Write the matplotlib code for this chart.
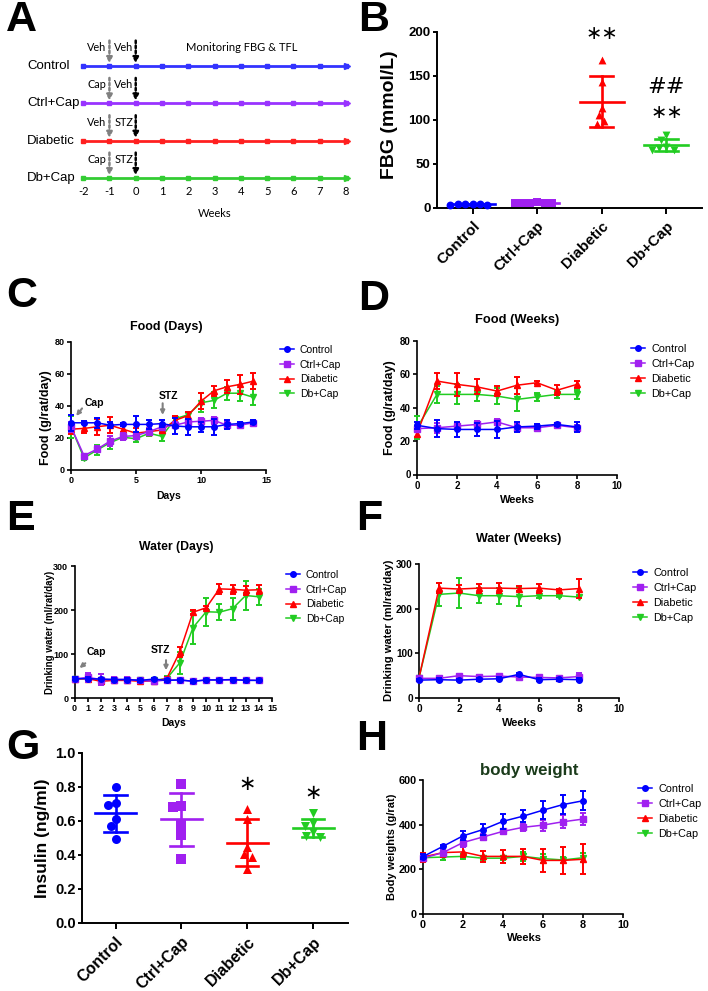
import numpy as np
import matplotlib
matplotlib.use("Agg")
import matplotlib.pyplot as plt
from matplotlib.lines import Line2D
import matplotlib.transforms as mtransforms

plt.rcParams['font.family'] = ['Liberation Sans', 'DejaVu Sans']
plt.rcParams['font.weight'] = 'bold'
plt.rcParams['axes.linewidth'] = 1.2

# ---------------- data ----------------
groups = ['Control', 'Ctrl+Cap', 'Diabetic', 'Db+Cap']

timeline_weeks = [-2, -1, 0, 1, 2, 3, 4, 5, 6, 7, 8]
timeline_pre = ['Veh', 'Cap', 'Veh', 'Cap']
timeline_induce = ['Veh', 'Veh', 'STZ', 'STZ']
timeline_note = 'Monitoring FBG & TFL'

fbg_control = [4.2, 3.8, 4.5, 4.0, 4.3, 3.9]
fbg_ctrlcap = [5.5, 6.2, 5.8, 6.5, 5.9, 6.1]
fbg_diabetic = [168, 143, 114, 106, 99, 95]
fbg_dbcap = [77, 83, 69, 68, 66, 66]

days = list(range(15))
food_d_control = [29.5, 29.5, 29.5, 28, 28.5, 28.5, 28.5, 29, 27.5, 27, 27, 27, 28.5, 29, 30]
food_d_control_sd = [5, 1, 3, 2, 1, 5, 3, 2, 5, 5, 3, 5, 3, 1, 1]
food_d_ctrlcap = [27, 9, 13, 18, 21, 21.5, 24, 27, 28, 30, 30.5, 31, 28, 28, 29.5]
food_d_ctrlcap_sd = [3, 1, 2, 3, 2, 2, 2, 2, 2, 2, 2, 2, 2, 1, 1]
food_d_diabetic = [25.5, 26, 27, 28, 25.5, 23, 24, 25, 31, 34, 43, 49.5, 52, 53.5, 55.5]
food_d_diabetic_sd = [3, 3, 5, 5, 2, 3, 2, 2, 3, 2, 5, 3, 4, 6, 5]
food_d_dbcap = [27, 7.5, 12.5, 17, 20.5, 19.5, 23, 21, 32, 34.5, 42, 43.5, 48, 48, 45.5]
food_d_dbcap_sd = [7, 1, 3, 4, 2, 2, 2, 3, 2, 2, 6, 5, 4, 5, 5]

weeks = list(range(9))
food_w_control = [29.5, 27.5, 27, 27, 27, 28.5, 29, 30, 28.5]
food_w_control_sd = [2, 5, 4.5, 4, 5, 3, 1.5, 1, 3]
food_w_ctrlcap = [27.5, 28, 29, 30, 31.5, 28, 28, 29.5, 28]
food_w_ctrlcap_sd = [1, 3, 2, 2, 2, 2, 1, 1, 1.5]
food_w_diabetic = [24.5, 56, 54, 52.5, 50, 53.5, 55, 50.5, 54]
food_w_diabetic_sd = [2, 5, 7, 4.5, 3, 5, 1, 3, 2]
food_w_dbcap = [28, 48, 48, 48, 47, 45, 46.5, 48, 48]
food_w_dbcap_sd = [7, 5, 6, 4, 5, 7, 2.5, 2, 2.5]

water_d_control = [44, 44, 43, 42, 42, 40, 43, 40, 41, 38, 41, 41, 42, 40, 40]
water_d_control_sd = [3, 3, 3, 3, 3, 3, 3, 3, 3, 3, 3, 3, 3, 3, 3]
water_d_ctrlcap = [43, 47, 42, 42, 42, 40, 38, 41, 41, 38, 41, 41, 41, 41, 40]
water_d_ctrlcap_sd = [3, 10, 12, 5, 5, 4, 4, 4, 4, 4, 4, 4, 4, 4, 4]
water_d_diabetic = [43, 44, 38, 40, 40, 38, 39, 44, 105, 195, 205, 248, 247, 245, 246]
water_d_diabetic_sd = [3, 3, 3, 3, 3, 3, 3, 3, 12, 5, 3, 12, 10, 10, 10]
water_d_dbcap = [43, 44, 42, 41, 41, 40, 40, 44, 80, 160, 196, 195, 203, 233, 230]
water_d_dbcap_sd = [3, 8, 12, 5, 5, 5, 5, 5, 25, 37, 32, 18, 25, 32, 18]

water_w_control = [40, 41, 40, 42, 43, 53, 41, 42, 41]
water_w_control_sd = [3, 3, 3, 3, 3, 3, 3, 3, 3]
water_w_ctrlcap = [44, 44, 50, 48, 49, 47, 46, 45, 48]
water_w_ctrlcap_sd = [3, 3, 4, 3, 3, 4, 3, 3, 8]
water_w_diabetic = [45, 246, 244, 246, 246, 245, 246, 242, 245]
water_w_diabetic_sd = [3, 12, 8, 10, 12, 5, 10, 3, 22]
water_w_dbcap = [45, 232, 235, 229, 229, 227, 229, 229, 226]
water_w_dbcap_sd = [3, 25, 33, 17, 18, 22, 5, 3, 3]

insulin_control = [0.80, 0.707, 0.693, 0.611, 0.572, 0.492]
insulin_ctrlcap = [0.82, 0.69, 0.68, 0.574, 0.516, 0.375]
insulin_diabetic = [0.668, 0.611, 0.449, 0.406, 0.387, 0.316]
insulin_dbcap = [0.648, 0.59, 0.57, 0.537, 0.508, 0.514]

bw_control = [257, 303, 350, 378, 415, 438, 465, 490, 507]
bw_control_sd = [10, 8, 20, 25, 35, 28, 40, 42, 42]
bw_ctrlcap = [250, 275, 320, 345, 370, 388, 398, 413, 425]
bw_ctrlcap_sd = [10, 15, 20, 15, 10, 15, 25, 30, 28]
bw_diabetic = [255, 275, 278, 258, 258, 258, 240, 240, 245]
bw_diabetic_sd = [20, 20, 25, 25, 30, 35, 50, 60, 68]
bw_dbcap = [252, 255, 258, 250, 250, 258, 248, 242, 252]
bw_dbcap_sd = [10, 15, 10, 10, 10, 20, 20, 15, 20]

# ---------------- style ----------------
colors = ['#0000ff', '#a020f0', '#ff0000', '#22cc22']
tl_colors = ['#3333ff', '#9933ff', '#ff2020', '#33cc33']
markers = ['o', 's', '^', 'v']

W, H = 708, 991
fig = plt.figure(figsize=(W / 100, H / 100), dpi=100)


def px_ax(l, t, r, b):
    return fig.add_axes([l / W, 1 - b / H, (r - l) / W, (b - t) / H])


def ftext(x, y, s, **kw):
    return fig.text(x / W, 1 - y / H, s, **kw)


def style(ax, fs, lw=1.2):
    for s in ['top', 'right']:
        ax.spines[s].set_visible(False)
    for s in ['left', 'bottom']:
        ax.spines[s].set_linewidth(lw)
    ax.tick_params(direction='out', length=3, width=lw, labelsize=fs, pad=1.5)


def panel_letter(x, y, s):
    ftext(x, y, s, fontsize=31, fontweight='bold', ha='left', va='top')


# ---------------- Panel A ----------------
axA = px_ax(70, 30, 356, 181)
axA.set_xlim(-2.5, 8.38)
axA.set_ylim(3.08, -0.964)
axA.axis('off')
blend = mtransforms.blended_transform_factory(fig.transFigure, axA.transData)
for i, g in enumerate(groups):
    axA.plot(timeline_weeks, [i] * len(timeline_weeks), color=tl_colors[i], lw=2,
             marker='s', ms=3, clip_on=False)
    axA.plot([timeline_weeks[-1] + 0.05], [i], marker='>', ms=5, color=tl_colors[i], clip_on=False)
    axA.text(27 / W, i, g, transform=blend, ha='left', va='center', fontsize=9.5,
             fontweight='normal')
    axA.annotate('', xy=(-1, i - 0.07), xytext=(-1, i - 0.68),
                 arrowprops=dict(arrowstyle='-|>', linestyle=(0, (1, 1)), color='#808080',
                                 lw=1.8, mutation_scale=8, shrinkA=0, shrinkB=0))
    axA.annotate('', xy=(0, i - 0.07), xytext=(0, i - 0.68),
                 arrowprops=dict(arrowstyle='-|>', linestyle=(0, (1, 1)), color='black',
                                 lw=1.8, mutation_scale=8, shrinkA=0, shrinkB=0))
    axA.text(-1.47, i - 0.5, timeline_pre[i], ha='center', va='center', fontsize=7.8,
             fontweight='normal', family=['Lato', 'DejaVu Sans'])
    axA.text(-0.45, i - 0.5, timeline_induce[i], ha='center', va='center', fontsize=7.8,
             fontweight='normal', family=['Lato', 'DejaVu Sans'])
axA.text(4.05, -0.5, timeline_note, ha='center', va='center', fontsize=8,
         fontweight='normal', family=['Lato', 'DejaVu Sans'])
for w in timeline_weeks:
    axA.text(w, 3.35, str(w), ha='center', va='center', fontsize=8, fontweight='normal',
             family=['Lato', 'DejaVu Sans'], clip_on=False)
axA.text(3.0, 3.95, 'Weeks', ha='center', va='center', fontsize=8, fontweight='normal',
         family=['Lato', 'DejaVu Sans'], clip_on=False)
panel_letter(6, 0, 'A')


# ---------------- scatter panels (B, G) ----------------
def swarm(vals, xpx, ypx, d):
    ys = np.asarray(vals, float) * ypx
    order = np.argsort(-ys)
    cands = [0.0]
    for s in np.arange(d / 8, 20 * d, d / 8):
        cands += [-s, s]
    placed = []
    offs = np.zeros(len(ys))
    for i in order:
        for c in cands:
            if all((c - px) ** 2 + (ys[i] - py) ** 2 >= d * d * 0.98 for px, py in placed):
                offs[i] = c
                placed.append((c, ys[i]))
                break
    return offs / xpx


def dot_panel(ax, data, xpx, ypx, d, ms, mean_hw, cap_hw):
    for k, vals in enumerate(data):
        offs = swarm(vals, xpx, ypx, d)
        ax.scatter(k + offs, vals, s=ms, marker=markers[k], color=colors[k], zorder=3,
                   clip_on=False, linewidths=0)
        m = np.mean(vals)
        sd = np.std(vals, ddof=1)
        ax.plot([k - mean_hw, k + mean_hw], [m, m], color=colors[k], lw=1.9, zorder=2)
        ax.plot([k, k], [m - sd, m + sd], color=colors[k], lw=1.9, zorder=2)
        for yy in (m - sd, m + sd):
            ax.plot([k - cap_hw, k + cap_hw], [yy, yy], color=colors[k], lw=1.9, zorder=2)


star_font = ['DejaVu Sans']

axB = px_ax(437, 32, 702, 208)
axB.set_xlim(-0.55, 3.55)
axB.set_ylim(0, 200)
dot_panel(axB, [fbg_control, fbg_ctrlcap, fbg_diabetic, fbg_dbcap],
          65.0, 176 / 200, 7.5, 32, 0.34, 0.18)
style(axB, 9.5, lw=1.4)
axB.set_yticks([0, 50, 100, 150, 200])
axB.set_xticks(range(4))
axB.set_xticklabels(groups, rotation=45, ha='right', rotation_mode='anchor', fontsize=11)
axB.tick_params(axis='x', length=4, pad=4)
ftext(390, 115, 'FBG (mmol/L)', rotation=90, fontsize=14, ha='center', va='center')
axB.text(2, 198, '\u2217\u2217', ha='center', va='center', fontsize=14, fontweight='normal',
         family=star_font, clip_on=False)
axB.text(3, 137, '##', ha='center', va='center', fontsize=16, fontweight='normal',
         family=star_font)
axB.text(3, 108, '\u2217\u2217', ha='center', va='center', fontsize=14, fontweight='normal',
         family=star_font)
panel_letter(358, 0, 'B')

axG = px_ax(82, 753, 348, 923)
axG.set_xlim(-0.51, 3.53)
axG.set_ylim(0, 1.0)
dot_panel(axG, [insulin_control, insulin_ctrlcap, insulin_diabetic, insulin_dbcap],
          65.7, 170.6, 8.0, 42, 0.31, 0.17)
style(axG, 10.5, lw=1.4)
axG.set_yticks([0.0, 0.2, 0.4, 0.6, 0.8, 1.0])
axG.set_yticklabels(['0.0', '0.2', '0.4', '0.6', '0.8', '1.0'])
axG.set_xticks(range(4))
axG.set_xticklabels(groups, rotation=45, ha='right', rotation_mode='anchor', fontsize=11.5)
axG.tick_params(axis='x', length=4, pad=4)
ftext(42, 838, 'Insulin (ng/ml)', rotation=90, fontsize=12.5, ha='center', va='center')
axG.text(2, 0.82, '\u2217', ha='center', va='center', fontsize=15, fontweight='normal',
         family=star_font)
axG.text(3, 0.765, '\u2217', ha='center', va='center', fontsize=15, fontweight='normal',
         family=star_font)
panel_letter(6, 728, 'G')


# ---------------- line panels ----------------
def line_panel(ax, x, means, sds, xlim, ylim, xticks, yticks, fs, legend_xy, leg_fs):
    for k in [3, 2, 1, 0]:
        ax.errorbar(x, means[k], yerr=sds[k], color=colors[k], marker=markers[k], ms=4,
                    lw=1.1, elinewidth=1.4, capsize=2.3, capthick=1.4, clip_on=False,
                    zorder=3 + (3 - k))
    ax.set_xlim(*xlim)
    ax.set_ylim(*ylim)
    ax.set_xticks(xticks)
    ax.set_yticks(yticks)
    style(ax, fs)
    handles = [Line2D([0], [0], color=c, marker=m, ms=4, lw=1.1) for c, m in zip(colors, markers)]
    ax.legend(handles, groups, loc='upper left',
              bbox_to_anchor=(legend_xy[0] / W, 1 - legend_xy[1] / H),
              bbox_transform=fig.transFigure, frameon=False,
              prop=dict(size=leg_fs, weight='normal'), handlelength=1.3,
              handletextpad=0.6, labelspacing=0.45, borderpad=0, borderaxespad=0)


def gray_arrow(ax, xy, xytext):
    ax.annotate('', xy=xy, xytext=xytext,
                arrowprops=dict(arrowstyle='-|>', color='#808080', lw=1.5,
                                mutation_scale=6, shrinkA=0, shrinkB=0))


# C
axC = px_ax(71, 342, 266, 470)
line_panel(axC, days, [food_d_control, food_d_ctrlcap, food_d_diabetic, food_d_dbcap],
           [food_d_control_sd, food_d_ctrlcap_sd, food_d_diabetic_sd, food_d_dbcap_sd],
           (0, 15), (0, 80), [0, 5, 10, 15], [0, 20, 40, 60, 80], 6.5, (280, 345), 7.5)
ftext(166, 327, 'Food (Days)', fontsize=9, ha='center', va='center')
ftext(169, 496, 'Days', fontsize=7.5, ha='center', va='center')
ftext(46, 418, 'Food (g/rat/day)', rotation=90, fontsize=9, ha='center', va='center')
axC.text(1.8, 41.7, 'Cap', fontsize=7.5, ha='center', va='center')
gray_arrow(axC, (0.4, 33.8), (0.85, 38.5))
axC.text(7.5, 46.2, 'STZ', fontsize=7.5, ha='center', va='center')
gray_arrow(axC, (7.05, 34.4), (7.05, 41.7))
panel_letter(6, 276, 'C')

# D
axD = px_ax(417, 341, 617, 474.5)
line_panel(axD, weeks, [food_w_control, food_w_ctrlcap, food_w_diabetic, food_w_dbcap],
           [food_w_control_sd, food_w_ctrlcap_sd, food_w_diabetic_sd, food_w_dbcap_sd],
           (0, 10), (0, 80), [0, 2, 4, 6, 8, 10], [0, 20, 40, 60, 80], 7, (631, 344), 7.8)
ftext(517, 320, 'Food (Weeks)', fontsize=9.3, ha='center', va='center')
ftext(517, 500, 'Weeks', fontsize=8, ha='center', va='center')
ftext(390, 408, 'Food (g/rat/day)', rotation=90, fontsize=9, ha='center', va='center')
panel_letter(358, 279, 'D')

# E
axE = px_ax(74.5, 566, 272, 698)
line_panel(axE, days, [water_d_control, water_d_ctrlcap, water_d_diabetic, water_d_dbcap],
           [water_d_control_sd, water_d_ctrlcap_sd, water_d_diabetic_sd, water_d_dbcap_sd],
           (0, 15), (0, 300), list(range(16)), [0, 100, 200, 300], 6.5, (286, 570), 7.5)
ftext(176, 547, 'Water (Days)', fontsize=8.8, ha='center', va='center')
ftext(174, 723, 'Days', fontsize=7.5, ha='center', va='center')
ftext(50, 632, 'Drinking water (ml/rat/day)', rotation=90, fontsize=7, ha='center', va='center')
axE.text(1.63, 105, 'Cap', fontsize=7.5, ha='center', va='center')
gray_arrow(axE, (0.38, 68), (0.82, 79))
axE.text(6.5, 108, 'STZ', fontsize=7.5, ha='center', va='center')
gray_arrow(axE, (6.95, 63), (6.95, 86))
panel_letter(6, 499, 'E')

# F
axF = px_ax(419, 564, 619, 698)
line_panel(axF, weeks, [water_w_control, water_w_ctrlcap, water_w_diabetic, water_w_dbcap],
           [water_w_control_sd, water_w_ctrlcap_sd, water_w_diabetic_sd, water_w_dbcap_sd],
           (0, 10), (0, 300), [0, 2, 4, 6, 8, 10], [0, 100, 200, 300], 7.2, (633, 568), 7.8)
ftext(519, 539, 'Water (Weeks)', fontsize=9, ha='center', va='center')
ftext(519, 723, 'Weeks', fontsize=8, ha='center', va='center')
ftext(389, 630, 'Drinking water (ml/rat/day)', rotation=90, fontsize=8, ha='center', va='center')
panel_letter(356, 499, 'F')

# H
axH = px_ax(423, 780, 623, 914)
line_panel(axH, weeks, [bw_control, bw_ctrlcap, bw_diabetic, bw_dbcap],
           [bw_control_sd, bw_ctrlcap_sd, bw_diabetic_sd, bw_dbcap_sd],
           (0, 10), (0, 600), [0, 2, 4, 6, 8, 10], [0, 200, 400, 600], 7.8, (638, 784), 7.8)
ftext(529, 770, 'body weight', fontsize=12.2, ha='center', va='center', color='#1b3b1b')
ftext(524, 938, 'Weeks', fontsize=8, ha='center', va='center')
ftext(392, 847, 'Body weights (g/rat)', rotation=90, fontsize=7.9, ha='center', va='center')
panel_letter(356, 719, 'H')

fig.savefig('out.png', dpi=100)
